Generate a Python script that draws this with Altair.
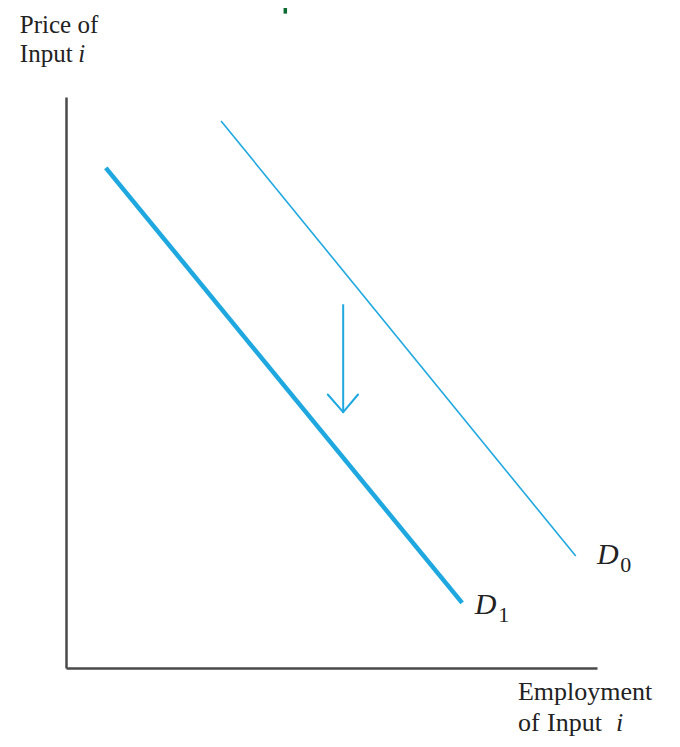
import altair as alt
import pandas as pd

# Demand curves (employment of input i, price of input i) on a 0-100 scale
curve_names = ["D1", "D1", "D0", "D0"]
curve_x = [7.5, 74.6, 29.2, 96.0]
curve_y = [87.6, 11.4, 95.8, 19.6]

# Shift arrow (shaft top, tip) and arrowhead wings
arrow_x = [52.2, 52.2]
arrow_y = [63.7, 44.8]
wing_x = [49.3, 55.0]
wing_y = [47.9, 47.9]

# Text annotations
top_text = ["Price of", "Input", "i"]
top_x = [-8.7, -8.7, 2.3]
top_y = [111.2, 106.1, 106.1]
top_style = ["normal", "normal", "italic"]

bot_text = ["Employment", "of", "Input", "i"]
bot_x = [85.1, 85.1, 90.6, 103.6]
bot_y = [-5.6, -11.0, -11.0, -11.0]
bot_style = ["normal", "normal", "normal", "italic"]

d_text = ["D", "D"]
d_x = [100.0, 77.0]
d_y = [18.2, 9.4]
sub_text = ["0", "1"]
sub_x = [104.4, 81.4]
sub_y = [16.8, 8.0]

BLUE = "#1fa8e0"
INK = "#222222"
W, H = 531, 571

xs = alt.Scale(domain=[0, 100], nice=False, zero=False)
ys = alt.Scale(domain=[0, 100], nice=False, zero=False)

curves = pd.DataFrame({"curve": curve_names, "x": curve_x, "y": curve_y})
d1 = curves[curves.curve == "D1"]
d0 = curves[curves.curve == "D0"]

ax = alt.Axis(title=None, labels=False, ticks=False, grid=False,
              domainColor="#4a4a4a", domainWidth=2.5)

line_d1 = alt.Chart(d1).mark_line(color=BLUE, strokeWidth=4.5).encode(
    x=alt.X("x:Q", scale=xs, axis=ax),
    y=alt.Y("y:Q", scale=ys, axis=ax),
)
line_d0 = alt.Chart(d0).mark_line(color=BLUE, strokeWidth=1.6).encode(
    x=alt.X("x:Q", scale=xs), y=alt.Y("y:Q", scale=ys)
)

shaft = alt.Chart(pd.DataFrame({"x": [arrow_x[0]], "y": [arrow_y[0]],
                                "x2": [arrow_x[1]], "y2": [arrow_y[1]]})).mark_rule(
    color=BLUE, strokeWidth=2).encode(
    x=alt.X("x:Q", scale=xs), y=alt.Y("y:Q", scale=ys), x2="x2:Q", y2="y2:Q")

wings = alt.Chart(pd.DataFrame({"x": wing_x, "y": wing_y,
                                "x2": [arrow_x[1]] * 2, "y2": [arrow_y[1]] * 2})).mark_rule(
    color=BLUE, strokeWidth=2, strokeCap="round").encode(
    x=alt.X("x:Q", scale=xs), y=alt.Y("y:Q", scale=ys), x2="x2:Q", y2="y2:Q")


def text_layer(df, size, italic=False):
    kw = dict(font="Liberation Serif", fontSize=size, align="left",
              baseline="alphabetic", color=INK)
    if italic:
        kw["fontStyle"] = "italic"
    return alt.Chart(df).mark_text(**kw).encode(
        x=alt.X("x:Q", scale=xs), y=alt.Y("y:Q", scale=ys), text="t:N")


top = pd.DataFrame({"t": top_text, "x": top_x, "y": top_y, "s": top_style})
bot = pd.DataFrame({"t": bot_text, "x": bot_x, "y": bot_y, "s": bot_style})

t1 = text_layer(top[top.s == "normal"], 25)
t2 = text_layer(top[top.s == "italic"], 25, italic=True)
t3 = text_layer(bot[bot.s == "normal"], 26)
t4 = text_layer(bot[bot.s == "italic"], 26, italic=True)
t5 = text_layer(pd.DataFrame({"t": d_text, "x": d_x, "y": d_y}), 30, italic=True)
t6 = text_layer(pd.DataFrame({"t": sub_text, "x": sub_x, "y": sub_y}), 22)

green = alt.Chart(pd.DataFrame({"x": [41.3], "y": [115.6], "y2": [114.6]})).mark_rule(
    color="#0b6b32", strokeWidth=3.5).encode(
    x=alt.X("x:Q", scale=xs), y=alt.Y("y:Q", scale=ys), y2="y2:Q")

chart = alt.layer(line_d1, line_d0, shaft, wings, t1, t2, t3, t4, t5, t6, green).properties(
    width=W, height=H,
    background="white",
    autosize=alt.AutoSizeParams(type="none"),
    padding={"left": 58, "top": 89, "right": 75, "bottom": 71},
).configure_view(stroke="transparent", strokeWidth=0)

chart.save("out.html", embed_options={"renderer": "svg", "actions": False})
